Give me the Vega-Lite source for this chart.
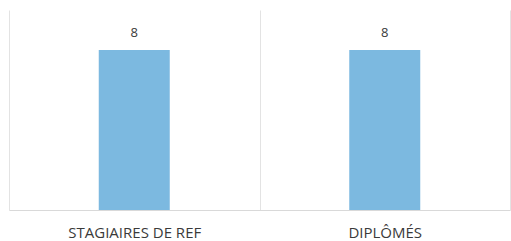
{
  "$schema": "https://vega.github.io/schema/vega-lite/v6.json",
  "autosize": "none",
  "padding": {"left": 9, "top": 10, "right": 1, "bottom": 31},
  "width": 501,
  "height": 200,
  "background": "white",
  "config": {"view": {"stroke": null}},
  "data": {"values": [
    {"categorie": "STAGIAIRES DE REF", "valeur": 8},
    {"categorie": "DIPLÔMÉS", "valeur": 8}
  ]},
  "encoding": {
    "x": {
      "field": "categorie", "type": "nominal", "sort": null,
      "scale": {"paddingInner": 0, "paddingOuter": 0},
      "axis": {
        "title": null, "labelAngle": 0, "ticks": false,
        "grid": true, "gridColor": "#e3e3e3", "tickBand": "extent",
        "domainColor": "#d9d9d9", "labelFont": "Open Sans", "labelFontSize": 15,
        "labelColor": "#3a3a3a", "labelPadding": 15
      }
    },
    "y": {
      "field": "valeur", "type": "quantitative",
      "scale": {"domain": [0, 10]},
      "axis": null
    }
  },
  "layer": [
    {"mark": {"type": "bar", "size": 71, "color": "#7cb9e0"}},
    {"mark": {"type": "text", "baseline": "alphabetic", "dy": -13, "font": "Open Sans", "fontSize": 13, "color": "#3a3a3a"},
     "encoding": {"text": {"field": "valeur", "type": "quantitative"}}}
  ]
}
